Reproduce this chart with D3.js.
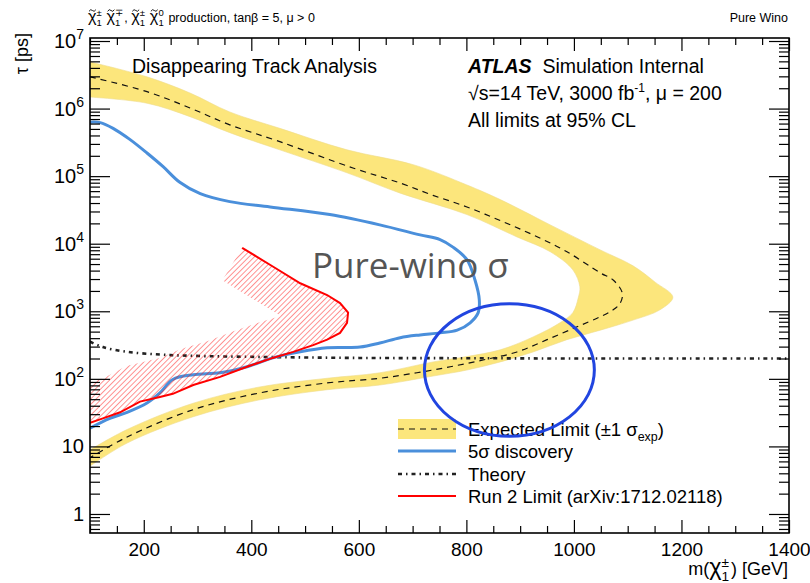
<!DOCTYPE html>
<html>
<head>
<meta charset="utf-8">
<script src="https://cdn.jsdelivr.net/npm/d3@7"></script>
<style>
  body { margin: 0; background: #fff; }
  svg { display: block; font-family: "Liberation Sans", Arial, Helvetica, sans-serif; }
  text { white-space: pre; }
</style>
</head>
<body>
<svg id="chart" width="810" height="583"></svg>
<script>
// ---- axis ticks ----
const massTicks = [200, 400, 600, 800, 1000, 1200, 1400];
const tauDecades = [0, 1, 2, 3, 4, 5, 6, 7];

// ---- expected limit contour (chargino mass [GeV], lifetime [ps]) ----
const expMass = [100, 206, 286, 360, 453, 589, 677, 738, 801, 863, 924, 987, 1049, 1073, 1090, 1086, 1073, 1049, 1006, 950, 894, 831, 770, 708, 639, 541, 416, 292, 169, 100];
const expTau  = [2.95e6, 1.78e6, 1.02e6, 5.75e5, 3.24e5, 1.32e5, 7.9e4, 5.2e4, 3.5e4, 2.2e4, 1.35e4, 7.6e3, 3.7e3, 2.9e3, 1.86e3, 1.32e3, 1.05e3, 830, 590, 380, 250, 190, 151, 123, 102, 87, 62, 35, 13.8, 6.8];

// +1 sigma_exp contour (outer edge of the band)
const upMass = [100, 206, 286, 360, 453, 578, 701, 801, 863, 956, 1049, 1110, 1151, 1184, 1160, 1110, 1049, 987, 924, 863, 801, 738, 639, 541, 416, 292, 169, 100];
const upTau  = [4.9e6, 2.95e6, 1.70e6, 8.9e5, 5.1e5, 2.45e5, 1.48e5, 7.4e4, 4.5e4, 1.9e4, 8.1e3, 4.7e3, 2.7e3, 1.62e3, 1.05e3, 740, 525, 380, 250, 178, 135, 110, 81, 69, 49, 27.5, 11.2, 5.1];

// -1 sigma_exp contour (inner edge of the band)
const downMass = [100, 206, 286, 360, 453, 578, 677, 801, 894, 956, 998, 1011, 1008, 998, 974, 924, 863, 801, 738, 639, 541, 416, 292, 169, 100];
const downTau  = [1.48e6, 1.2e6, 7.6e5, 4.4e5, 2.45e5, 1.12e5, 5.6e4, 2.7e4, 1.26e4, 7.6e3, 4.1e3, 2.3e3, 1.58e3, 955, 676, 417, 269, 214, 178, 123, 102, 76, 43.6, 17.8, 8.9];

// ---- 5 sigma discovery contour ----
const discMass = [100, 119, 143, 174, 206, 236, 267, 305, 360, 435, 546, 639, 714, 751, 775, 801, 816, 824, 822, 807, 783, 751, 714, 677, 639, 602, 541, 491, 440, 392, 342, 292, 254, 230, 206, 169, 137, 100];
const discTau  = [6.3e5, 6.2e5, 5.1e5, 3.5e5, 2.2e5, 1.38e5, 8.1e4, 5.5e4, 4.2e4, 3.5e4, 2.7e4, 1.9e4, 1.35e4, 1.15e4, 8.9e3, 5.8e3, 2.9e3, 1.48e3, 955, 676, 525, 479, 447, 407, 339, 295, 288, 251, 204, 151, 123, 115, 98, 62, 44, 32, 26, 18.6];

// ---- Run 2 limit (arXiv:1712.02118) ----
const run2Mass = [383, 440, 491, 541, 565, 580, 578, 565, 541, 515, 478, 440, 392, 342, 292, 254, 230, 193, 156, 124, 100];
const run2Tau  = [8.7e3, 4.6e3, 2.6e3, 1.74e3, 1.32e3, 955, 676, 479, 380, 316, 251, 204, 151, 107, 81, 60, 54, 46, 32, 26, 22.4];

// ---- pure-wino theory lifetime ----
const theoMass = [100, 124, 169, 230, 292, 416, 600, 800, 1000, 1200, 1400];
const theoTau  = [355, 295, 251, 229, 219, 211, 204, 202, 200, 200, 200];

// ---- highlighted region (centre mass, centre tau, half-width in GeV, half-height in decades) ----
const ringCentre = [880, 135];
const ringHalfMass = 158;
const ringHalfDecades = 0.98;

// ================= drawing =================
const svg = d3.select("#chart");
const L = 90, R = 789, T = 38, B = 533;

const x = d3.scaleLinear().domain([100, 1400]).range([L, R]);
const y = d3.scaleLog().domain([0.523, 1.108e7]).range([B, T]);

const defs = svg.append("defs");
defs.append("clipPath").attr("id", "plotClip")
  .append("rect").attr("x", L).attr("y", T).attr("width", R - L).attr("height", B - T);

const hatch = defs.append("pattern").attr("id", "hatch")
  .attr("patternUnits", "userSpaceOnUse").attr("width", 3.8).attr("height", 3.8)
  .attr("patternTransform", "rotate(45)");
hatch.append("line").attr("x1", 0).attr("y1", -1).attr("x2", 0).attr("y2", 5)
  .attr("stroke", "#ff1010").attr("stroke-width", 0.9);

const zip = (ms, ts) => ms.map((m, i) => [m, ts[i]]);
const smooth = d3.line().x(d => x(d[0])).y(d => y(d[1])).curve(d3.curveCatmullRom.alpha(0.5));
const straight = d3.line().x(d => x(d[0])).y(d => y(d[1]));

const plot = svg.append("g").attr("clip-path", "url(#plotClip)");

// yellow +-1 sigma band: outer contour then inner contour reversed
const outerPath = smooth(zip(upMass, upTau));
const innerPath = smooth(zip(downMass, downTau).reverse());
plot.append("path")
  .attr("d", outerPath + "L" + innerPath.slice(1) + "Z")
  .attr("fill", "#fce67c").attr("stroke", "#efdc8c").attr("stroke-width", 0.6);

// expected limit (dashed)
plot.append("path").attr("d", smooth(zip(expMass, expTau)))
  .attr("fill", "none").attr("stroke", "#111").attr("stroke-width", 1.2)
  .attr("stroke-dasharray", "6,5");

// theory (dash-dot)
plot.append("path").attr("d", smooth(zip(theoMass, theoTau)))
  .attr("fill", "none").attr("stroke", "#222").attr("stroke-width", 2.6)
  .attr("stroke-dasharray", "4,4,1.5,4");

// 5 sigma discovery
plot.append("path").attr("d", smooth(zip(discMass, discTau)))
  .attr("fill", "none").attr("stroke", "#4a8fdb").attr("stroke-width", 3);

// Run 2 exclusion: hatched strip on the excluded side of the line
const run2Pts = zip(run2Mass, run2Tau).map(d => [x(d[0]), y(d[1])]);
const hatchWidth = 38;
const offsetPts = run2Pts.map((p, i) => {
  let nx = 0, ny = 0;
  const addSeg = (a, b) => {
    const dx = b[0] - a[0], dy = b[1] - a[1], len = Math.hypot(dx, dy);
    nx += -dy / len; ny += dx / len;
  };
  if (i > 0) addSeg(run2Pts[i - 1], p);
  if (i < run2Pts.length - 1) addSeg(p, run2Pts[i + 1]);
  const n = Math.hypot(nx, ny);
  return [p[0] + hatchWidth * nx / n, p[1] + hatchWidth * ny / n];
});
const hatchPoly = run2Pts.concat(offsetPts.slice().reverse());
plot.append("path")
  .attr("d", "M" + hatchPoly.map(p => p.join(",")).join("L") + "Z")
  .attr("fill", "url(#hatch)").attr("fill-rule", "nonzero");
plot.append("path").attr("d", straight(zip(run2Mass, run2Tau)))
  .attr("fill", "none").attr("stroke", "#ff0000").attr("stroke-width", 2);

// ---- frame and axes ----
const axisStyle = g => {
  g.select(".domain").remove();
  g.selectAll(".tick line").attr("stroke", "#000").attr("stroke-width", 1.2);
  g.attr("font-family", null).attr("font-size", null);
};
const minorMass = d3.range(100, 1401, 50).filter(v => massTicks.indexOf(v) < 0);
const minorTau = [];
for (let e = -1; e < 7; e++) for (let k = 2; k <= 9; k++) {
  const v = k * Math.pow(10, e);
  if (v > 0.523 && v < 1.108e7) minorTau.push(v);
}
const majorTau = tauDecades.map(e => Math.pow(10, e));

svg.append("g").attr("transform", `translate(0,${B})`)
  .call(d3.axisBottom(x).tickValues(massTicks).tickSize(-13).tickPadding(10).tickFormat(d3.format("d")))
  .call(axisStyle)
  .call(g => g.selectAll("text").attr("font-size", 19).attr("fill", "#000"));
svg.append("g").attr("transform", `translate(0,${B})`)
  .call(d3.axisBottom(x).tickValues(minorMass).tickSize(-7).tickFormat("")).call(axisStyle);
svg.append("g").attr("transform", `translate(0,${T})`)
  .call(d3.axisTop(x).tickValues(massTicks).tickSize(-13).tickFormat("")).call(axisStyle);
svg.append("g").attr("transform", `translate(0,${T})`)
  .call(d3.axisTop(x).tickValues(minorMass).tickSize(-7).tickFormat("")).call(axisStyle);

svg.append("g").attr("transform", `translate(${L},0)`)
  .call(d3.axisLeft(y).tickValues(majorTau).tickSize(-20).tickFormat("")).call(axisStyle);
svg.append("g").attr("transform", `translate(${L},0)`)
  .call(d3.axisLeft(y).tickValues(minorTau).tickSize(-10).tickFormat("")).call(axisStyle);
svg.append("g").attr("transform", `translate(${R},0)`)
  .call(d3.axisRight(y).tickValues(majorTau).tickSize(-20).tickFormat("")).call(axisStyle);
svg.append("g").attr("transform", `translate(${R},0)`)
  .call(d3.axisRight(y).tickValues(minorTau).tickSize(-10).tickFormat("")).call(axisStyle);

svg.append("rect").attr("x", L).attr("y", T).attr("width", R - L).attr("height", B - T)
  .attr("fill", "none").attr("stroke", "#000").attr("stroke-width", 1.6);

// y tick labels 10^n
tauDecades.forEach(e => {
  const t = svg.append("text").attr("x", 84).attr("y", y(Math.pow(10, e)) + 7)
    .attr("text-anchor", "end").attr("font-size", 20);
  if (e === 0) t.text("1");
  else if (e === 1) t.text("10");
  else {
    t.append("tspan").text("10");
    t.append("tspan").attr("dy", -9).attr("font-size", 14).text(e);
  }
});

// ---- rich text helper (super/subscripts stacked like ROOT latex) ----
function rich(x0, y0, parts, fs, anchorEnd) {
  const g = svg.append("g");
  let cx = 0;
  parts.forEach(p => {
    if (p.stack) {
      const a = g.append("text").attr("x", cx).attr("y", -fs * 0.45).attr("font-size", fs * 0.76).text(p.stack[0]);
      const b = g.append("text").attr("x", cx).attr("y", fs * 0.33).attr("font-size", fs * 0.76).text(p.stack[1]);
      cx += Math.max(a.node().getComputedTextLength(), b.node().getComputedTextLength()) + fs * 0.1;
    } else if (p.chi) {
      const c = g.append("text").attr("x", cx).attr("y", 0).attr("font-size", fs * 1.3).text("\u03C7");
      const w = c.node().getComputedTextLength();
      if (p.tilde) {
        // tilde accent over the chi
        const tx = cx + w * 0.12, tw = w * 0.8, ty = -fs * 0.92, th = fs * 0.16;
        g.append("path")
          .attr("d", `M${tx},${ty + th * 0.4} Q${tx + tw * 0.25},${ty - th} ${tx + tw * 0.5},${ty} T${tx + tw},${ty - th * 0.4}`)
          .attr("fill", "none").attr("stroke", "#000").attr("stroke-width", 0.9);
      }
      cx += w;
    } else {
      const t = g.append("text").attr("x", cx).attr("y", 0).attr("font-size", fs).text(p.t);
      cx += t.node().getComputedTextLength();
    }
  });
  g.attr("transform", `translate(${anchorEnd ? x0 - cx : x0},${y0})`);
  return g;
}

rich(88, 22, [
  { chi: 1, tilde: 1 }, { stack: ["\u00B1", "1"] }, { t: " " },
  { chi: 1, tilde: 1 }, { stack: ["\u2213", "1"] }, { t: ", " },
  { chi: 1, tilde: 1 }, { stack: ["\u00B1", "1"] }, { t: " " },
  { chi: 1, tilde: 1 }, { stack: ["0", "1"] },
  { t: " production, tan\u03B2 = 5, \u03BC > 0" }
], 12.5, false);

svg.append("text").attr("x", 788).attr("y", 22).attr("text-anchor", "end")
  .attr("font-size", 12.5).text("Pure Wino");

// axis titles
rich(788, 575, [{ t: "m(" }, { chi: 1 }, { stack: ["\u00B1", "1"] }, { t: ") [GeV]" }], 18, true);
svg.append("text").attr("transform", "translate(28,33) rotate(-90)")
  .attr("text-anchor", "end").attr("font-size", 18).text("\u03C4 [ps]");

// labels inside the frame
svg.append("text").attr("x", 132).attr("y", 73).attr("font-size", 19.5).text("Disappearing Track Analysis");

const atlas = svg.append("text").attr("x", 468).attr("y", 73).attr("font-size", 19.5);
atlas.append("tspan").attr("font-weight", "bold").attr("font-style", "italic").text("ATLAS");
atlas.append("tspan").text("  Simulation Internal");

const lumi = svg.append("text").attr("x", 468).attr("y", 100).attr("font-size", 19.5);
lumi.append("tspan").text("\u221As=14 TeV, 3000 fb");
lumi.append("tspan").attr("dy", -8).attr("font-size", 12).text("-1");
lumi.append("tspan").attr("dy", 8).text(", \u03BC = 200");

svg.append("text").attr("x", 468).attr("y", 127).attr("font-size", 19.5).text("All limits at 95% CL");

svg.append("text").attr("x", 312).attr("y", 278).attr("font-size", 35)
  .attr("font-family", "'Open Sans', 'Noto Sans', sans-serif").attr("fill", "#555")
  .text("Pure-wino \u03C3");

// ---- legend ----
const lg = svg.append("g");
const lx0 = 398, lx1 = 456, ltx = 468;
const rows = [429, 451, 474, 496];
lg.append("rect").attr("x", lx0).attr("y", rows[0] - 10).attr("width", lx1 - lx0).attr("height", 20).attr("fill", "#fce67c");
lg.append("line").attr("x1", lx0).attr("x2", lx1).attr("y1", rows[0]).attr("y2", rows[0])
  .attr("stroke", "#111").attr("stroke-width", 1.2).attr("stroke-dasharray", "6,5");
lg.append("line").attr("x1", lx0).attr("x2", lx1).attr("y1", rows[1]).attr("y2", rows[1])
  .attr("stroke", "#4a8fdb").attr("stroke-width", 3);
lg.append("line").attr("x1", lx0).attr("x2", lx1).attr("y1", rows[2]).attr("y2", rows[2])
  .attr("stroke", "#222").attr("stroke-width", 2.6).attr("stroke-dasharray", "4,4,1.5,4");
lg.append("line").attr("x1", lx0).attr("x2", lx1).attr("y1", rows[3]).attr("y2", rows[3])
  .attr("stroke", "#ff0000").attr("stroke-width", 2);

const e1 = lg.append("text").attr("x", ltx).attr("y", rows[0] + 7).attr("font-size", 18.5);
e1.append("tspan").text("Expected Limit (\u00B11 \u03C3");
e1.append("tspan").attr("dy", 5).attr("font-size", 12.5).text("exp");
e1.append("tspan").attr("dy", -5).text(")");
lg.append("text").attr("x", ltx).attr("y", rows[1] + 7).attr("font-size", 18.5).text("5\u03C3 discovery");
lg.append("text").attr("x", ltx).attr("y", rows[2] + 7).attr("font-size", 18.5).text("Theory");
lg.append("text").attr("x", ltx).attr("y", rows[3] + 7).attr("font-size", 18.5).text("Run 2 Limit (arXiv:1712.02118)");

// ---- highlight ring ----
const cy = Math.log10(ringCentre[1]);
const ringX0 = x(ringCentre[0] - ringHalfMass), ringX1 = x(ringCentre[0] + ringHalfMass);
const ringY0 = y(Math.pow(10, cy + ringHalfDecades)), ringY1 = y(Math.pow(10, cy - ringHalfDecades));
svg.append("ellipse")
  .attr("cx", (ringX0 + ringX1) / 2).attr("cy", (ringY0 + ringY1) / 2)
  .attr("rx", (ringX1 - ringX0) / 2).attr("ry", (ringY1 - ringY0) / 2)
  .attr("fill", "none").attr("stroke", "#2145e0").attr("stroke-width", 3);
</script>
</body>
</html>
